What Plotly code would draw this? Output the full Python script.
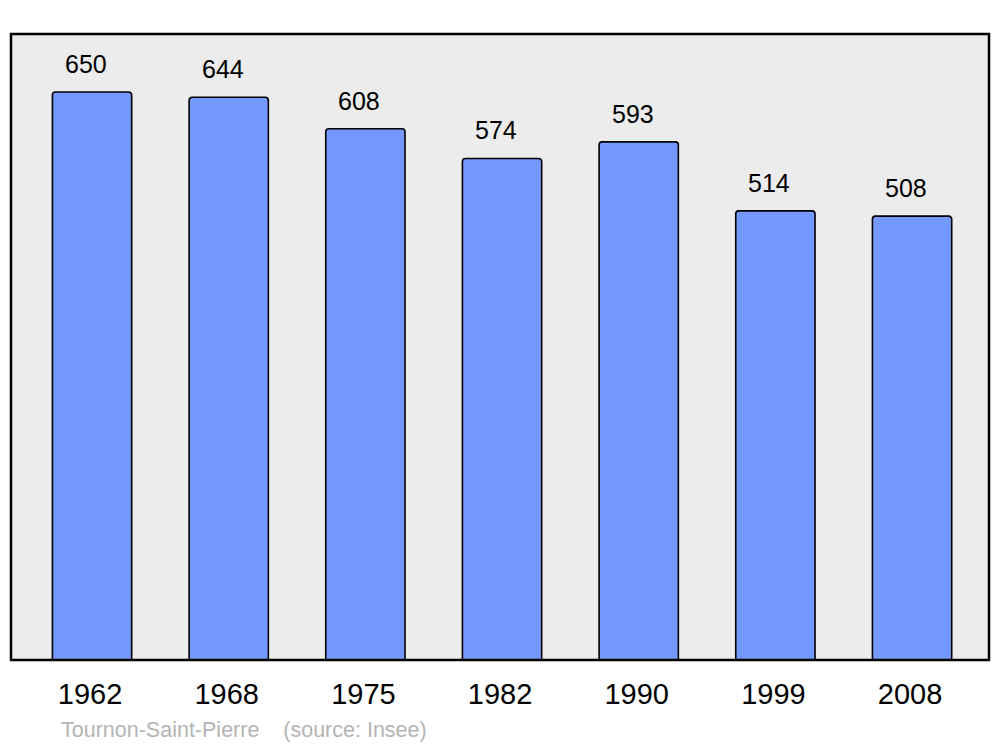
import plotly.graph_objects as go

years = ["1962", "1968", "1975", "1982", "1990", "1999", "2008"]
population = [650, 644, 608, 574, 593, 514, 508]
source_text = "Tournon-Saint-Pierre    (source: Insee)"

fig = go.Figure()
fig.add_trace(go.Bar(
    x=years, y=population, width=0.58,
    marker=dict(color="#7399ff", line=dict(color="#000000", width=1.6), cornerradius=3),
    hoverinfo="skip",
))

for i, v in enumerate(population):
    fig.add_annotation(x=i, y=v, text=str(v), showarrow=False, yanchor="middle",
                       yshift=28, xshift=-6,
                       font=dict(family="Liberation Sans", size=25, color="#000000"))

fig.add_annotation(xref="paper", yref="paper", x=0.049, y=-0.1118, xanchor="left",
                   yanchor="middle", text=source_text, showarrow=False,
                   font=dict(family="Liberation Sans", size=21.5, color="#b4b4b4"))

fig.add_shape(type="rect", xref="paper", yref="paper", x0=0, x1=1, y0=0, y1=1,
              line=dict(color="#000000", width=2.5), layer="above")

# page body has an 8px margin, so the figure is sized/margined to land at the same pixels
fig.update_layout(
    width=992, height=739,
    margin=dict(l=3, r=11, t=26, b=87),
    paper_bgcolor="#ffffff", plot_bgcolor="#ececec",
    showlegend=False,
    font=dict(family="Liberation Sans"),
    xaxis=dict(type="category", range=[-0.593, 6.563], showgrid=False, zeroline=False,
               ticks="", ticklabelstandoff=14, ticklabelshift=-2,
               tickfont=dict(family="Liberation Sans", size=29, color="#000000")),
    yaxis=dict(range=[0, 716.4], showgrid=False, zeroline=False, showticklabels=False,
               ticks=""),
)

fig.write_html("out.html")
